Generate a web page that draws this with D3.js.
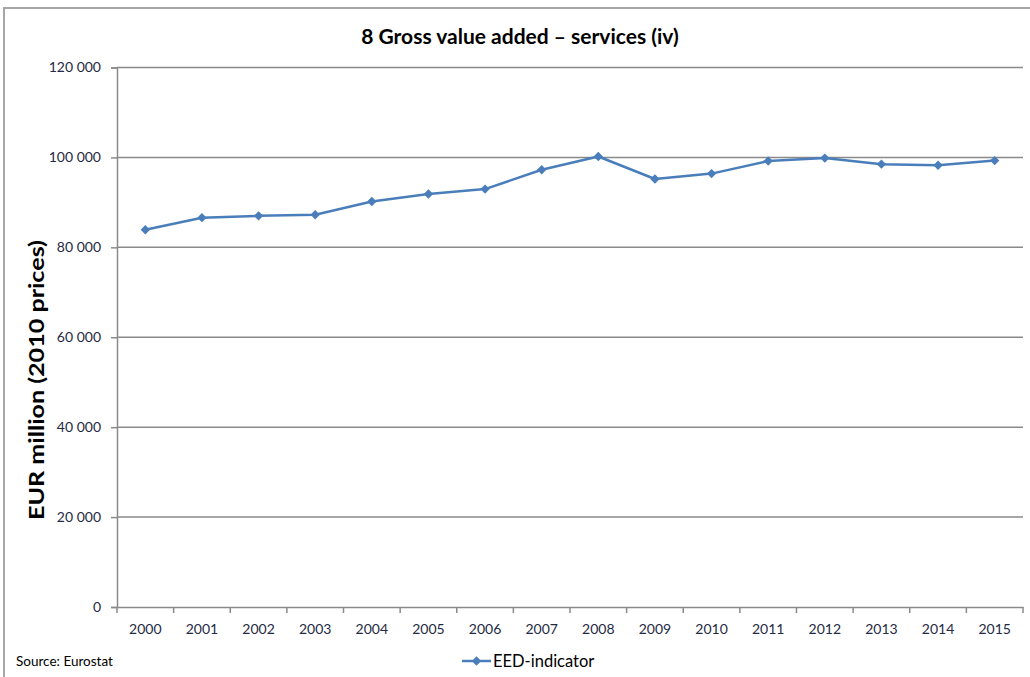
<!DOCTYPE html>
<html>
<head>
<meta charset="utf-8">
<script src="https://cdn.jsdelivr.net/npm/d3@7"></script>
<style>
  html, body { margin: 0; padding: 0; background: #fff; }
  svg { display: block; }
</style>
</head>
<body>
<svg id="chart" width="1030" height="677"></svg>
<script>
// Gross value added in services, EUR million at 2010 prices
const years = ["2000","2001","2002","2003","2004","2005","2006","2007",
               "2008","2009","2010","2011","2012","2013","2014","2015"];
const eedIndicator = [83900, 86600, 87000, 87250, 90200, 91850, 92950, 97250,
                      100200, 95200, 96400, 99200, 99850, 98500, 98250, 99300];
const yTicks = [0, 20000, 40000, 60000, 80000, 100000, 120000];

const svg = d3.select("#chart");
const font = "Lato, 'Open Sans', sans-serif";
const gridColor = "#8a8a8a";
const lineColor = "#4a7ebb";
const tickText = "#1f2a44";

const plot = { left: 117, right: 1023, top: 67.5, bottom: 607 };

// chart frame
svg.append("path")
  .attr("d", "M4,677 L4,8 L1030,8")
  .attr("fill", "none")
  .attr("stroke", "#a6a6a6")
  .attr("stroke-width", 2);

const x = d3.scaleBand().domain(years).range([plot.left, plot.right]);
const y = d3.scaleLinear().domain([0, 120000]).range([plot.bottom, plot.top]);

const fmt = v => d3.format(",")(v).replace(/,/g, " ");

// horizontal gridlines
svg.append("g")
  .selectAll("line")
  .data(yTicks.filter(d => d > 0))
  .join("line")
  .attr("x1", plot.left).attr("x2", plot.right)
  .attr("y1", d => y(d)).attr("y2", d => y(d))
  .attr("stroke", gridColor).attr("stroke-width", 1.5);

// y axis
const yAxis = svg.append("g")
  .attr("transform", `translate(${plot.left},0)`)
  .call(d3.axisLeft(y).tickValues(yTicks).tickFormat(fmt).tickSize(6).tickPadding(10));
yAxis.select(".domain").attr("stroke", gridColor).attr("stroke-width", 1.5);
yAxis.selectAll(".tick line").attr("stroke", gridColor).attr("stroke-width", 1.5);
yAxis.selectAll("text")
  .attr("font-family", font).attr("font-size", 14).attr("fill", tickText);

// x axis with ticks between categories
const xAxis = svg.append("g")
  .attr("transform", `translate(0,${plot.bottom})`)
  .call(d3.axisBottom(x).tickSize(0).tickPadding(17));
xAxis.select(".domain").attr("stroke", gridColor).attr("stroke-width", 1.5);
xAxis.selectAll("text")
  .attr("font-family", font).attr("font-size", 14).attr("fill", tickText);
xAxis.selectAll("line.sep")
  .data(years.map(d => x(d)).concat([plot.right]))
  .join("line")
  .attr("class", "sep")
  .attr("x1", d => d).attr("x2", d => d)
  .attr("y1", 0).attr("y2", 6)
  .attr("stroke", gridColor).attr("stroke-width", 1.5);

// title
svg.append("text")
  .attr("x", 520).attr("y", 44)
  .attr("text-anchor", "middle")
  .attr("font-family", font).attr("font-size", 21).attr("font-weight", "bold")
  .attr("fill", "#000")
  .text("8 Gross value added \u2013 services (iv)");

// y axis title
svg.append("text")
  .attr("transform", "translate(44,380) rotate(-90)")
  .attr("text-anchor", "middle")
  .attr("font-family", font).attr("font-size", 20).attr("font-weight", "bold")
  .attr("textLength", 280).attr("lengthAdjust", "spacingAndGlyphs")
  .attr("fill", "#000")
  .text("EUR million (2010 prices)");

// series line
const cx = d => x(d) + x.bandwidth() / 2;
const line = d3.line()
  .x((d, i) => cx(years[i]))
  .y(d => y(d));
svg.append("path")
  .datum(eedIndicator)
  .attr("d", line)
  .attr("fill", "none")
  .attr("stroke", lineColor)
  .attr("stroke-width", 2.5)
  .attr("stroke-linejoin", "round");

const diamond = d3.symbol().type(d3.symbolDiamond2).size(56);
svg.append("g")
  .selectAll("path")
  .data(eedIndicator)
  .join("path")
  .attr("d", diamond)
  .attr("transform", (d, i) => `translate(${cx(years[i])},${y(d)})`)
  .attr("fill", lineColor);

// source note
svg.append("text")
  .attr("x", 16).attr("y", 666)
  .attr("font-family", font).attr("font-size", 13.5)
  .attr("fill", "#000")
  .text("Source: Eurostat");

// legend
const lg = svg.append("g").attr("transform", "translate(462,661)");
lg.append("line")
  .attr("x1", 0).attr("x2", 29).attr("y1", 0).attr("y2", 0)
  .attr("stroke", lineColor).attr("stroke-width", 2.5);
lg.append("path")
  .attr("d", diamond)
  .attr("transform", "translate(14.5,0)")
  .attr("fill", lineColor);
lg.append("text")
  .attr("x", 31).attr("y", 6)
  .attr("font-family", font).attr("font-size", 16.5)
  .attr("fill", "#000")
  .text("EED-indicator");
</script>
</body>
</html>
